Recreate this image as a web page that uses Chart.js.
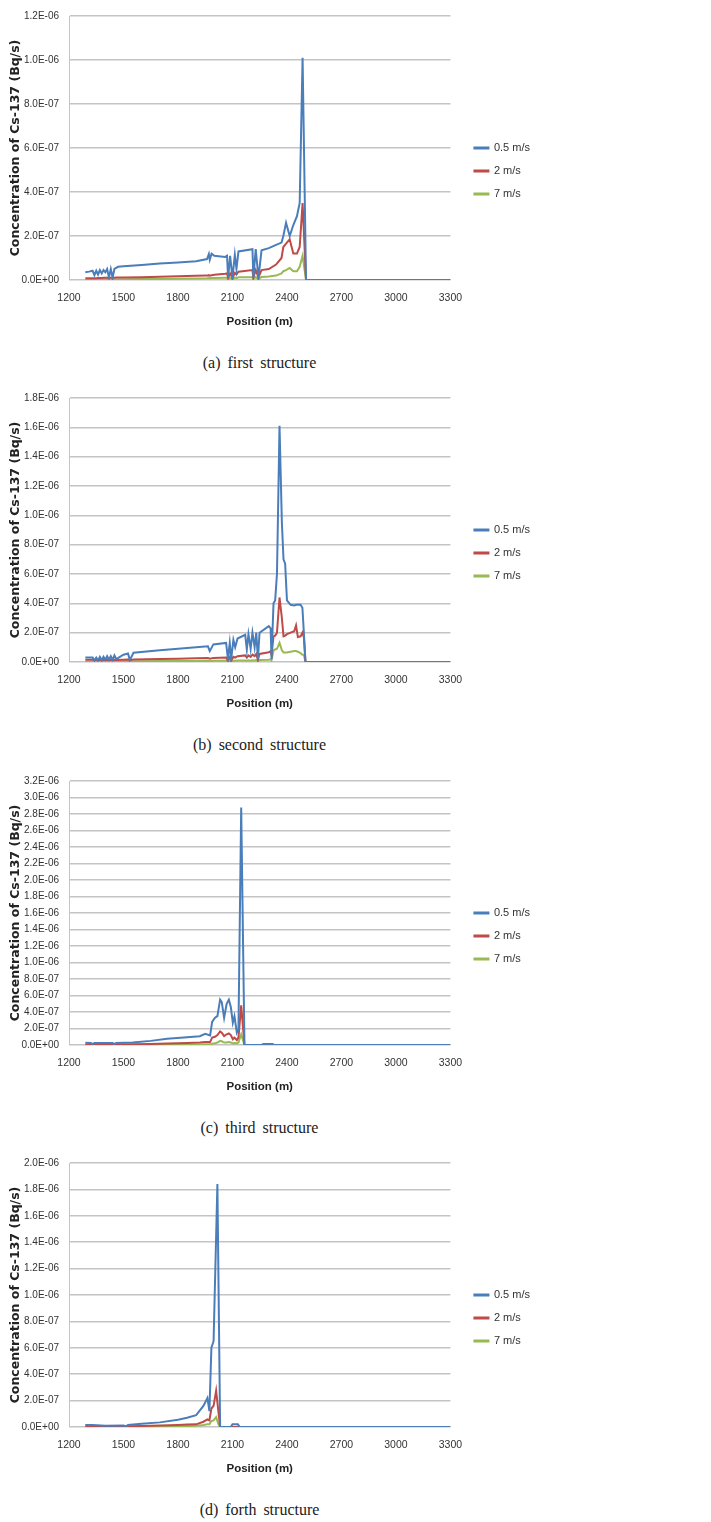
<!DOCTYPE html>
<html>
<head>
<meta charset="utf-8">
<title>Concentration of Cs-137</title>
<script src="https://cdn.jsdelivr.net/npm/chart.js@4.4.1/dist/chart.umd.min.js"></script>
<style>
    body { margin: 0; background: #ffffff; }
    #page { position: relative; width: 711px; height: 1522px; overflow: hidden; }
    .panel { position: absolute; left: 0; width: 711px; height: 400px; }
    .panel canvas { position: absolute; left: 0; top: 0; }
    .caption {
        position: absolute; left: 69px; width: 381px; top: 353px;
        text-align: center; line-height: 20px;
        font-family: "Liberation Serif", "DejaVu Serif", serif;
        font-size: 16px; word-spacing: 3px; color: #222222;
    }
</style>
</head>
<body>
<div id="page">
    <div class="panel" style="top:0px"><canvas id="chartA" width="711" height="330"></canvas><div class="caption">(a) first structure</div></div>
    <div class="panel" style="top:382px"><canvas id="chartB" width="711" height="330"></canvas><div class="caption">(b) second structure</div></div>
    <div class="panel" style="top:765px"><canvas id="chartC" width="711" height="330"></canvas><div class="caption">(c) third structure</div></div>
    <div class="panel" style="top:1147px"><canvas id="chartD" width="711" height="330"></canvas><div class="caption">(d) forth structure</div></div>
</div>
<script>
// Series names and x ticks (all charts)
var seriesNames = ["0.5 m/s", "2 m/s", "7 m/s"];
var xTicks = [1200, 1500, 1800, 2100, 2400, 2700, 3000, 3300];

// Values below are in units of 1E-07 Bq/s

// (a) first structure
var posA = [1290, 1310, 1330, 1340, 1350, 1360, 1370, 1380, 1390, 1400, 1410, 1420, 1430, 1440, 1450, 1460, 1470,
    1500, 1600, 1700, 1800, 1900, 1960, 1970, 1975, 1985, 2000, 2060, 2070, 2076, 2087, 2100, 2113, 2122, 2133,
    2210, 2215, 2228, 2243, 2260, 2300, 2340, 2370, 2380, 2395, 2415, 2435, 2455, 2470, 2486, 2505, 3300];
var blueA = [0.35, 0.38, 0.42, 0.22, 0.42, 0.25, 0.45, 0.3, 0.45, 0.35, 0.5, 0.12, 0.5, 0.1, 0.5, 0.55, 0.6,
    0.62, 0.68, 0.75, 0.8, 0.85, 0.95, 1.18, 0.92, 1.2, 1.1, 1.05, 1.1, 0.1, 1.1, 0.1, 1.15, 0.5, 1.3,
    1.4, 0.1, 1.4, 0.1, 1.35, 1.45, 1.6, 1.7, 2.0, 2.6, 2.0, 2.5, 2.9, 3.5, 10.1, 0, 0];
var redA = [0.08, 0.08, 0.08, 0.08, 0.08, 0.09, 0.09, 0.09, 0.1, 0.1, 0.1, 0.1, 0.1, 0.1, 0.1, 0.11, 0.11,
    0.11, 0.13, 0.15, 0.17, 0.19, 0.2, 0.22, 0.2, 0.22, 0.24, 0.28, 0.3, 0.1, 0.3, 0.1, 0.32, 0.25, 0.38,
    0.45, 0.12, 0.45, 0.12, 0.45, 0.5, 0.7, 1.0, 1.5, 1.65, 1.85, 1.2, 1.2, 1.5, 3.5, 0, 0];
var greenA = [0.02, 0.02, 0.02, 0.02, 0.02, 0.02, 0.02, 0.03, 0.03, 0.03, 0.03, 0.03, 0.03, 0.03, 0.03, 0.03, 0.03,
    0.03, 0.04, 0.05, 0.06, 0.07, 0.08, 0.09, 0.08, 0.09, 0.09, 0.1, 0.1, 0.03, 0.1, 0.03, 0.11, 0.08, 0.12,
    0.13, 0.04, 0.13, 0.04, 0.14, 0.16, 0.2, 0.3, 0.4, 0.45, 0.55, 0.4, 0.4, 0.6, 1.1, 0, 0];

// (b) second structure
var posB = [1290, 1330, 1340, 1350, 1360, 1370, 1380, 1390, 1400, 1410, 1420, 1430, 1440, 1450, 1460,
    1500, 1525, 1535, 1555, 1700, 1800, 1900, 1965, 1975, 1995, 2065, 2075, 2085, 2093, 2105, 2115, 2128,
    2170, 2179, 2188, 2200, 2210, 2222, 2231, 2240, 2249, 2300, 2310, 2315, 2326, 2335, 2345, 2359, 2372, 2381, 2390,
    2400, 2420, 2440, 2450, 2460, 2475, 2485, 2493, 2502, 3300];
var blueB = [0.3, 0.3, 0.1, 0.3, 0.1, 0.35, 0.12, 0.35, 0.15, 0.4, 0.15, 0.4, 0.15, 0.45, 0.2,
    0.5, 0.58, 0.13, 0.63, 0.8, 0.9, 1.0, 1.07, 0.74, 1.2, 1.3, 0.2, 1.3, 0.2, 1.5, 1.0, 1.6,
    1.85, 0.85, 1.9, 0.9, 2.0, 1.0, 2.0, 0.2, 2.0, 2.45, 2.3, 0.2, 4.0, 4.2, 6.0, 16.1, 9.5, 7.0, 6.7,
    4.2, 3.9, 3.85, 3.9, 3.9, 3.9, 3.7, 2.0, 0, 0];
var redB = [0.15, 0.15, 0.12, 0.15, 0.12, 0.15, 0.12, 0.15, 0.13, 0.15, 0.13, 0.15, 0.13, 0.15, 0.14,
    0.16, 0.17, 0.12, 0.17, 0.2, 0.22, 0.25, 0.27, 0.22, 0.28, 0.3, 0.1, 0.32, 0.1, 0.35, 0.3, 0.4,
    0.45, 0.3, 0.45, 0.35, 0.5, 0.4, 0.55, 0.15, 0.55, 0.67, 0.74, 0.5, 1.75, 1.8, 2.0, 4.4, 3.0, 1.75, 1.8,
    1.9, 2.0, 2.1, 2.5, 1.7, 1.75, 2.0, 1.7, 0, 0];
var greenB = [0.04, 0.04, 0.04, 0.04, 0.04, 0.04, 0.04, 0.04, 0.04, 0.04, 0.04, 0.04, 0.04, 0.04, 0.04,
    0.05, 0.05, 0.04, 0.05, 0.06, 0.06, 0.07, 0.07, 0.06, 0.08, 0.08, 0.03, 0.08, 0.03, 0.09, 0.08, 0.1,
    0.11, 0.08, 0.11, 0.09, 0.12, 0.1, 0.13, 0.04, 0.13, 0.15, 0.18, 0.1, 0.8, 0.85, 0.9, 1.3, 0.8, 0.65, 0.65,
    0.65, 0.7, 0.75, 0.75, 0.7, 0.6, 0.5, 0.5, 0, 0];

// (c) third structure
var posC = [1290, 1320, 1330, 1340, 1440, 1450, 1460, 1550, 1650, 1740, 1850, 1920, 1950, 1977, 1988, 2004, 2017,
    2032, 2041, 2054, 2068, 2080, 2091, 2102, 2111, 2124, 2133, 2148, 2166, 2260, 2270, 2320, 2330, 3300];
var blueC = [0.28, 0.25, 0.1, 0.25, 0.25, 0.1, 0.25, 0.3, 0.5, 0.75, 0.95, 1.07, 1.35, 1.15, 2.8, 3.3, 3.5,
    5.5, 5.2, 3.3, 5.0, 5.5, 4.6, 2.7, 3.5, 1.5, 1.9, 28.8, 0, 0, 0.12, 0.12, 0, 0];
var redC = [0.05, 0.05, 0.03, 0.05, 0.06, 0.04, 0.06, 0.08, 0.12, 0.18, 0.25, 0.3, 0.35, 0.35, 0.9, 1.0, 1.2,
    1.65, 1.5, 1.07, 1.3, 1.4, 1.2, 0.7, 0.9, 0.6, 0.9, 4.8, 0, 0, 0, 0, 0, 0];
var greenC = [0.02, 0.02, 0.01, 0.02, 0.02, 0.01, 0.02, 0.02, 0.03, 0.04, 0.05, 0.06, 0.08, 0.08, 0.15, 0.2, 0.3,
    0.5, 0.45, 0.3, 0.3, 0.35, 0.3, 0.2, 0.25, 0.2, 0.3, 1.3, 0, 0, 0, 0, 0, 0];

// (d) forth structure
var posD = [1290, 1330, 1400, 1500, 1515, 1525, 1600, 1700, 1800, 1850, 1900, 1940, 1962, 1973, 1984, 1996,
    2010, 2017, 2023, 2032, 2090, 2100, 2130, 2140, 3300];
var blueD = [0.15, 0.15, 0.1, 0.12, 0.05, 0.15, 0.25, 0.35, 0.55, 0.7, 0.9, 1.6, 2.2, 1.2, 6.0, 6.5,
    null, 18.4, null, 0, 0, 0.2, 0.2, 0, 0];
var redD = [0.05, 0.05, 0.05, 0.06, 0.04, 0.06, 0.08, 0.12, 0.15, 0.18, 0.2, 0.4, 0.57, 0.5, 1.4, 1.6,
    2.75, null, 1.1, 0, 0, 0, 0, 0, 0];
var greenD = [0.01, 0.01, 0.01, 0.01, 0.01, 0.01, 0.02, 0.03, 0.05, 0.07, 0.1, 0.15, 0.2, 0.2, 0.45, 0.5,
    0.75, null, 0.2, 0, 0, 0, 0, 0, 0];

var colors = ["#4a7ebb", "#be4b48", "#98b954"];
var labelFont = "'Liberation Sans', Arial, sans-serif";

// Format a value (in 1E-07 units) like Excel: 1.2E-06, 0.0E+00
function sciLabel(value)
{
    var v = value * 1e-7;
    if (Math.abs(v) < 1e-12)
    {
        return "0.0E+00";
    }
    var parts = v.toExponential(1).split("e");
    var exp = parseInt(parts[1], 10);
    var sign = exp < 0 ? "-" : "+";
    var a = Math.abs(exp);
    return parts[0] + "E" + sign + (a < 10 ? "0" + a : String(a));
}

function toPoints(positions, values)
{
    return positions.map(function(p, i) {
        return { x: p, y: values[i] };
    });
}

function makeChart(canvasId, positions, blue, red, green, yMax)
{
    var ctx = document.getElementById(canvasId).getContext("2d");
    var seriesValues = [blue, red, green];

    var datasets = seriesValues.map(function(values, i) {
        return {
            label: seriesNames[i],
            data: toPoints(positions, values),
            borderColor: colors[i],
            backgroundColor: colors[i],
            borderWidth: 2,
            pointRadius: 0,
            tension: 0,
            spanGaps: true,
            yAxisID: "y"
        };
    });

    return new Chart(ctx, {
        type: "line",
        data: { datasets: datasets },
        options: {
            responsive: false,
            animation: false,
            devicePixelRatio: 1,
            layout: { padding: { top: 12, left: 0, right: 171, bottom: 0 } },
            plugins: {
                legend: {
                    position: "right",
                    labels: {
                        boxWidth: 14,
                        boxHeight: 1,
                        padding: 12,
                        color: "#333333",
                        font: { family: labelFont, size: 11 }
                    }
                },
                tooltip: { enabled: false }
            },
            scales: {
                y: {
                    type: "linear",
                    position: "left",
                    min: 0,
                    max: yMax,
                    ticks: {
                        stepSize: 2,
                        autoSkip: false,
                        padding: 10,
                        color: "#333333",
                        font: { family: labelFont, size: 10 },
                        callback: function(value) { return sciLabel(value); }
                    },
                    grid: { color: "#c4c4c4", lineWidth: 1.5, drawTicks: false },
                    border: { display: true, color: "#c4c4c4", width: 1 },
                    title: {
                        display: true,
                        text: "Concentration of Cs-137 (Bq/s)",
                        color: "#222222",
                        font: { family: "'DejaVu Sans', Verdana, sans-serif", size: 12.5, weight: "bold" },
                        padding: { top: 8, bottom: 0 }
                    },
                    afterFit: function(scale) { scale.width = 69; }
                },
                gap: {
                    type: "linear",
                    position: "right",
                    display: true,
                    ticks: { display: false },
                    grid: { display: false, drawTicks: false },
                    border: { display: false },
                    afterFit: function(scale) { scale.width = 12; }
                },
                x: {
                    type: "linear",
                    min: xTicks[0],
                    max: xTicks[xTicks.length - 1],
                    ticks: {
                        stepSize: 300,
                        padding: 12,
                        color: "#333333",
                        font: { family: labelFont, size: 10.5 },
                        callback: function(value) { return String(value); }
                    },
                    grid: { display: false, drawTicks: false },
                    border: { display: false },
                    title: {
                        display: true,
                        text: "Position (m)",
                        color: "#222222",
                        font: { family: labelFont, size: 11.5, weight: "bold" },
                        padding: { top: 0, bottom: 1 }
                    },
                    afterFit: function(scale) { scale.height = 50; }
                }
            }
        }
    });
}

// Begin script
makeChart("chartA", posA, blueA, redA, greenA, 12);
makeChart("chartB", posB, blueB, redB, greenB, 18);
makeChart("chartC", posC, blueC, redC, greenC, 32);
makeChart("chartD", posD, blueD, redD, greenD, 20);
</script>
</body>
</html>
